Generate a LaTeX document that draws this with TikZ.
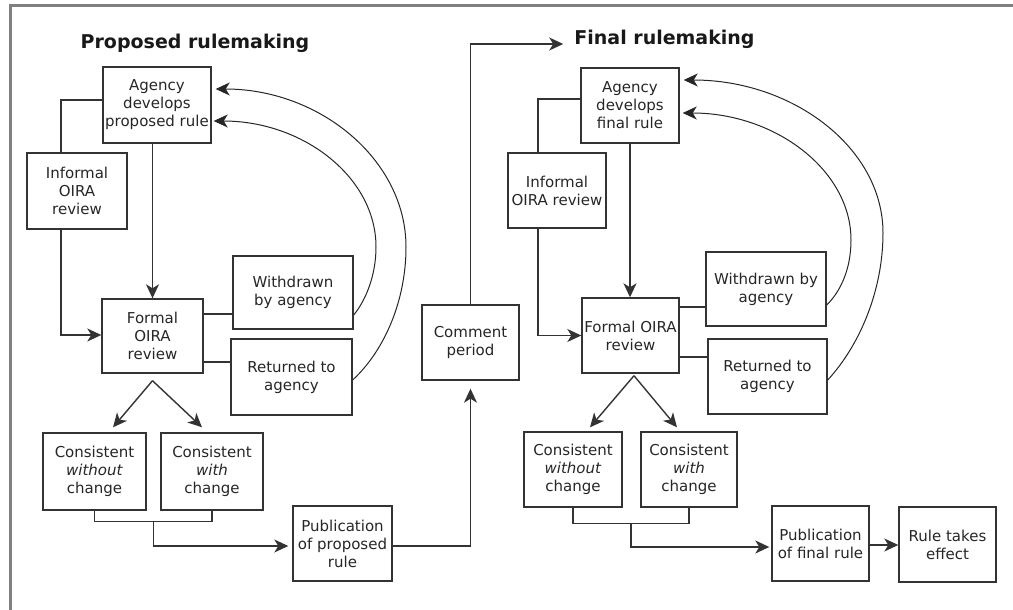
\documentclass[tikz,border=0pt]{standalone}
\usepackage{fontspec}
\setmainfont{DejaVu Sans}
\usetikzlibrary{arrows.meta,calc}
\begin{document}
\begin{tikzpicture}[x=1pt,y=-1pt,
  bx/.style={draw=black!80, line width=1.4pt, align=center, inner sep=0pt, text=black!85, font=\fontsize{15}{18}\selectfont},
  ttl/.style={font=\bfseries\fontsize{19}{22}\selectfont, inner sep=0pt, text=black!90},
  conn/.style={draw=black!80, line width=1.4pt},
  arr/.style={conn, -{Stealth[length=14pt,width=13pt,inset=4pt]}},
  crv/.style={draw=black!85, line width=1pt, -{Stealth[length=14pt,width=13pt,inset=4pt]}}]
\useasboundingbox (0,0) rectangle (1013,610);
\draw[black!50, line width=2.5pt] (10.5,610) -- (10.5,5.5) -- (1013,5.5);

% titles
\node[ttl] (t1) at (195,43) {Proposed rulemaking};
\node[ttl] (t2) at (664.5,39) {Final rulemaking};

% proposed rulemaking
\node[bx, minimum width=108pt, minimum height=76pt] (apr) at (157,105) {Agency\\develops\\proposed rule};
\node[bx, minimum width=100pt, minimum height=76pt] (ipr) at (77,191) {Informal\\OIRA\\review};
\node[bx, minimum width=101pt, minimum height=74pt] (fpr) at (152.5,336) {Formal\\OIRA\\review};
\node[bx, minimum width=120pt, minimum height=73pt] (wpr) at (293,292.5) {Withdrawn\\by agency};
\node[bx, minimum width=121pt, minimum height=76pt] (rpr) at (291.5,377) {Returned to\\agency};
\node[bx, minimum width=103pt, minimum height=77pt] (cwo1) at (94.5,471.5) {Consistent\\\textit{without}\\change};
\node[bx, minimum width=102pt, minimum height=77pt] (cw1) at (212,471.5) {Consistent\\\textit{with}\\change};
\node[bx, minimum width=99pt, minimum height=75pt] (pub1) at (342.5,543.5) {Publication\\of proposed\\rule};
\node[bx, minimum width=97pt, minimum height=75pt] (com) at (470.5,342.5) {Comment\\period};

% final rulemaking
\node[bx, minimum width=98pt, minimum height=75pt] (afr) at (630,105.5) {Agency\\develops\\final rule};
\node[bx, minimum width=98pt, minimum height=75pt] (ifr) at (557,190.5) {Informal\\OIRA review};
\node[bx, minimum width=97pt, minimum height=75pt] (ffr) at (630.5,335.5) {Formal OIRA\\review};
\node[bx, minimum width=120pt, minimum height=74pt] (wfr) at (766,289) {Withdrawn by\\agency};
\node[bx, minimum width=119pt, minimum height=75pt] (rfr) at (767.5,376.5) {Returned to\\agency};
\node[bx, minimum width=98pt, minimum height=75pt] (cwo2) at (573,469.5) {Consistent\\\textit{without}\\change};
\node[bx, minimum width=96pt, minimum height=75pt] (cw2) at (689,469.5) {Consistent\\\textit{with}\\change};
\node[bx, minimum width=97pt, minimum height=75pt] (pub2) at (820.5,543.5) {Publication\\of final rule};
\node[bx, minimum width=97pt, minimum height=75pt] (eff) at (947.5,544.5) {Rule takes\\effect};

% proposed connectors
\draw[conn] ([yshift=5pt]apr.west) -| ([xshift=-16pt]ipr.north);
\draw[arr] ([xshift=-16pt]ipr.south) |- ([yshift=1pt]fpr.west);
\draw[arr] (apr.south -| fpr.north) -- (fpr.north);
\draw[conn] ([yshift=22pt]fpr.east) -- ([yshift=22pt]fpr.east -| wpr.west);
\draw[conn] ([yshift=-26pt]fpr.east) -- ([yshift=-26pt]fpr.east -| rpr.west);
\coordinate (s1) at ([yshift=-7pt]fpr.south);
\draw[arr] (s1) -- ([xshift=18.5pt,yshift=5pt]cwo1.north);
\draw[arr] (s1) -- ([xshift=-10pt,yshift=5pt]cw1.north);
\draw[conn] (cwo1.south) -- ++(0,11) -| (cw1.south);
\coordinate (m1) at ($(cwo1.south)!0.5!(cw1.south)+(0,11)$);
\draw[arr] (m1) |- ([xshift=-4pt,yshift=-2.5pt]pub1.west);
\draw[arr] ([yshift=-2.5pt]pub1.east) -| ([yshift=-8pt]com.south);
\draw[arr] (com.north) |- ([xshift=-11pt,yshift=-5pt]t2.west);
\draw[crv] ([yshift=-3pt]rpr.east) .. controls (385,350) and (406,300) .. (406,247) .. controls (406,160) and (320,89) .. ([xshift=4pt,yshift=16pt]apr.east);
\draw[crv] ([yshift=-22.5pt]wpr.east) .. controls (366,300) and (376,275) .. (376,247) .. controls (376,177) and (303,121) .. ([xshift=2pt,yshift=-16pt]apr.east);

% final connectors
\draw[conn] ([yshift=6.5pt]afr.west) -| ([xshift=-19pt]ifr.north);
\draw[arr] ([xshift=-19pt]ifr.south) |- (ffr.west);
\draw[arr] (afr.south) -- (afr.south |- ffr.north);
\draw[conn] ([yshift=28.5pt]ffr.east) -- ([yshift=28.5pt]ffr.east -| wfr.west);
\draw[conn] ([yshift=-21.5pt]ffr.east) -- ([yshift=-21.5pt]ffr.east -| rfr.west);
\coordinate (s2) at ([xshift=3.5pt,yshift=-2pt]ffr.south);
\draw[arr] (s2) -- ([xshift=17pt,yshift=4pt]cwo2.north);
\draw[arr] (s2) -- ([xshift=-12pt,yshift=4pt]cw2.north);
\draw[conn] (cwo2.south) -- ++(0,16) -| (cw2.south);
\coordinate (m2) at ($(cwo2.south)!0.5!(cw2.south)+(0,16)$);
\draw[arr] (m2) |- ([xshift=-2pt,yshift=-3.5pt]pub2.west);
\draw[arr] ([yshift=-1.5pt]pub2.east) -- ([yshift=-1.5pt]pub2.east -| eff.west);
\draw[crv] ([yshift=-3.5pt]rfr.east) .. controls (860,345) and (883,290) .. (883,233) .. controls (883,148) and (793,80) .. ([xshift=4pt,yshift=25.5pt]afr.east);
\draw[crv] ([yshift=-16pt]wfr.east) .. controls (840,292) and (851,270) .. (851,240) .. controls (851,170) and (775,113) .. ([xshift=3pt,yshift=-7.5pt]afr.east);
\end{tikzpicture}
\end{document}
